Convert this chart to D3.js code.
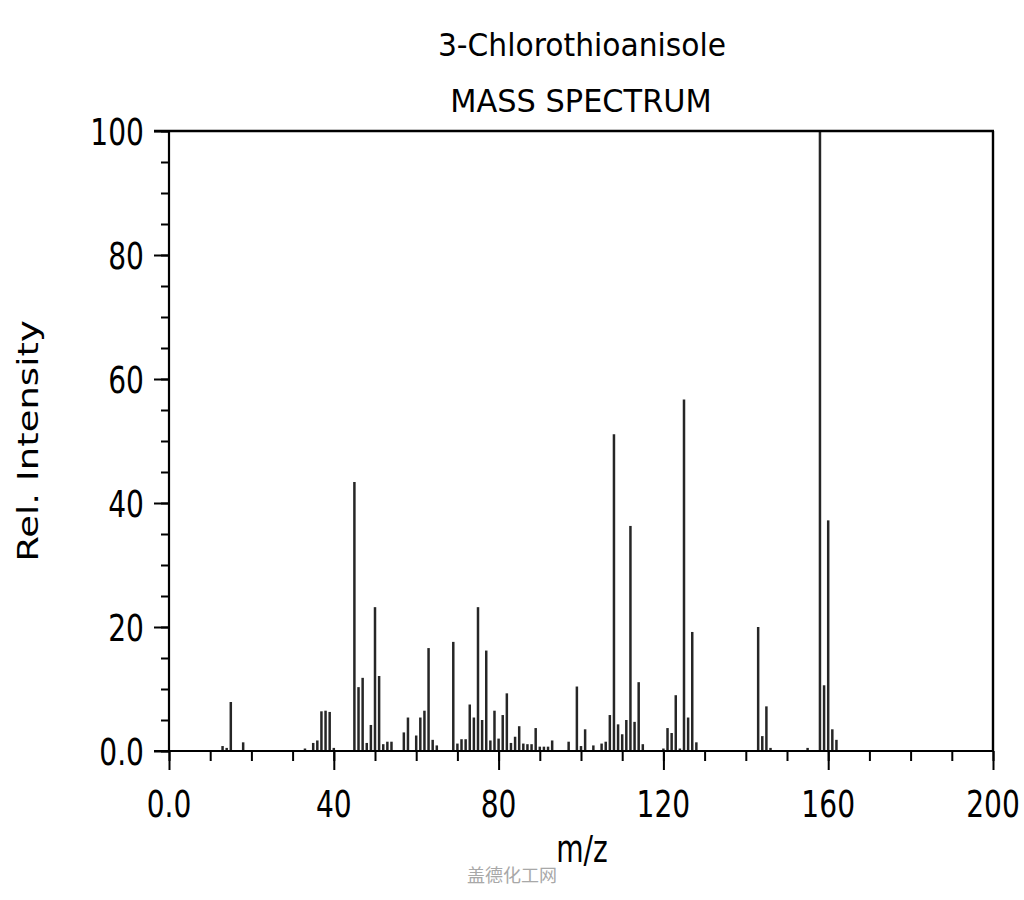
<!DOCTYPE html>
<html>
<head>
<meta charset="utf-8">
<script src="https://cdn.jsdelivr.net/npm/d3@7"></script>
<style>
  html, body { margin: 0; padding: 0; background: #fff; }
  svg { display: block; }
  text { font-family: "DejaVu Sans", sans-serif; fill: #000; }
</style>
</head>
<body>
<svg id="chart" width="1024" height="900"></svg>
<script>
// ---- data ----
const titleLines = ["3-Chlorothioanisole", "MASS SPECTRUM"];
const xLabel = "m/z";
const yLabel = "Rel. Intensity";
const watermark = "盖德化工网";

const mz = [13,14,15,18,33,35,36,37,38,39,40,45,46,47,48,49,50,51,52,53,54,57,58,60,61,62,63,64,65,
  69,70,71,72,73,74,75,76,77,78,79,80,81,82,83,84,85,86,87,88,89,90,91,92,93,97,99,100,101,103,
  105,106,107,108,109,110,111,112,113,114,115,120,121,122,123,124,125,126,127,128,
  143,144,145,146,155,158,159,160,161,162];
const intensity = [0.8,0.5,7.9,1.4,0.4,1.3,1.7,6.4,6.5,6.3,0.5,43.4,10.3,11.8,1.3,4.2,23.2,12.1,1.1,1.5,1.5,3.0,5.4,2.5,5.4,6.5,16.6,1.8,0.9,
  17.6,1.2,1.9,1.9,7.5,5.4,23.2,5.0,16.2,1.7,6.5,2.0,5.8,9.3,1.3,2.3,4.0,1.2,1.1,1.1,3.7,0.7,0.7,0.7,1.7,1.5,10.4,0.8,3.5,0.9,
  1.2,1.5,5.8,51.1,4.3,2.7,5.0,36.3,4.7,11.1,1.1,0.4,3.7,2.9,9.0,0.4,56.7,5.4,19.2,1.4,
  20.0,2.4,7.2,0.5,0.5,100,10.6,37.2,3.5,1.8];

const xMajorTicks = [0, 40, 80, 120, 160, 200];
const xTickLabels = ["0.0", "40", "80", "120", "160", "200"];
const xMinorTicks = d3.range(0, 201, 10);
const yMajorTicks = [0, 20, 40, 60, 80, 100];
const yTickLabels = ["0.0", "20", "40", "60", "80", "100"];
const yMinorTicks = d3.range(0, 101, 5);

// ---- layout ----
const L = 169, R = 993, T = 131, B = 751;
const svg = d3.select("#chart");
const x = d3.scaleLinear().domain([0, 200]).range([L, R]);
const y = d3.scaleLinear().domain([0, 100]).range([B, T]);

const SX = 0.76; // horizontal squeeze of axis texts

// bars
svg.append("g").selectAll("line").data(mz).join("line")
  .attr("x1", d => x(d)).attr("x2", d => x(d))
  .attr("y1", y(0)).attr("y2", (d, i) => y(intensity[i]))
  .attr("stroke", "#262626").attr("stroke-width", 2.5);

// x axis: minor + major ticks
const gx = svg.append("g").attr("transform", `translate(0,${B})`);
gx.call(d3.axisBottom(x).tickValues(xMinorTicks).tickSize(10).tickFormat(""))
  .call(g => g.select(".domain").remove());
gx.append("g").call(d3.axisBottom(x).tickValues(xMajorTicks).tickSize(19).tickFormat(""))
  .call(g => g.select(".domain").remove());
gx.selectAll("line").attr("stroke", "#000").attr("stroke-width", 2);

// y axis ticks
const gy = svg.append("g").attr("transform", `translate(${L},0)`);
gy.call(d3.axisLeft(y).tickValues(yMinorTicks).tickSize(8).tickFormat(""))
  .call(g => g.select(".domain").remove());
gy.append("g").call(d3.axisLeft(y).tickValues(yMajorTicks).tickSize(15).tickFormat(""))
  .call(g => g.select(".domain").remove());
gy.selectAll("line").attr("stroke", "#000").attr("stroke-width", 2);

// frame
svg.append("line").attr("x1", L - 15).attr("x2", R + 1).attr("y1", y(0)).attr("y2", y(0))
  .attr("stroke", "#000").attr("stroke-width", 2.2);
svg.append("line").attr("x1", L).attr("x2", L).attr("y1", T).attr("y2", B)
  .attr("stroke", "#000").attr("stroke-width", 2.2);
svg.append("line").attr("x1", L - 15).attr("x2", R + 1).attr("y1", y(100)).attr("y2", y(100))
  .attr("stroke", "#000").attr("stroke-width", 2.4);
svg.append("line").attr("x1", R).attr("x2", R).attr("y1", T).attr("y2", B)
  .attr("stroke", "#000").attr("stroke-width", 2.4);

// tick labels
svg.append("g").selectAll("text").data(xMajorTicks).join("text")
  .attr("transform", d => `translate(${x(d)},817) scale(${SX},1)`)
  .attr("text-anchor", "middle").attr("font-size", 37)
  .text((d, i) => xTickLabels[i]);
svg.append("g").selectAll("text").data(yMajorTicks).join("text")
  .attr("transform", d => `translate(144,${y(d) + 14}) scale(${SX},1)`)
  .attr("text-anchor", "end").attr("font-size", 37)
  .text((d, i) => yTickLabels[i]);

// axis titles
svg.append("text").attr("transform", `translate(582,862) scale(${SX},1)`)
  .attr("text-anchor", "middle").attr("font-size", 37).text(xLabel);
svg.append("text").attr("transform", `translate(38,441) scale(${SX},1) rotate(-90)`)
  .attr("text-anchor", "middle").attr("font-size", 37).text(yLabel);

// title
svg.append("text").attr("transform", "translate(582,56) scale(0.93,1)")
  .attr("text-anchor", "middle").attr("font-size", 32).text(titleLines[0]);
svg.append("text").attr("transform", "translate(581,112) scale(0.95,1)")
  .attr("text-anchor", "middle").attr("font-size", 32).text(titleLines[1]);

// watermark
svg.append("text").attr("x", 512).attr("y", 882).attr("text-anchor", "middle")
  .attr("font-size", 18).style("font-family", '"Noto Sans CJK SC", sans-serif')
  .style("fill", "#a8a8a8").text(watermark);
</script>
</body>
</html>
